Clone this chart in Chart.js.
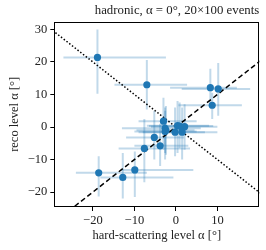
<!DOCTYPE html>
<html><head><meta charset="utf-8">
<script src="https://cdn.jsdelivr.net/npm/chart.js@4.4.1/dist/chart.umd.min.js"></script>
<style>html,body{margin:0;padding:0;background:#fff}#wrap{width:266px;height:250px}</style>
</head><body><div id="wrap"><canvas id="c" width="266" height="250"></canvas></div>
<script>
const xVals = [-18.9, -7.0, 8.3, 10.2, 8.75, -18.6, -12.8, -9.9, -7.6, -5.2, -3.8, -3.0, -2.6, -2.6, 0.4, 2.1, -0.2, 1.5, -2.4, 0.9];
const yVals = [21.4, 13.0, 12.1, 11.7, 6.7, -14.1, -15.5, -13.2, -6.6, -3.2, -5.8, 1.8, -0.4, -1.4, 0.4, 0.1, -1.6, -1.6, -1.0, 0.3];
const xLow  = [-27.1, -14.8, -1.4, 1.4, 0.6, -24.1, -18.2, -13.4, -13.8, -12.0, -10.0, -9.0, -13.0, -10.0, -7.0, -6.0, -9.0, -8.0, -9.5, -6.5];
const xHigh = [-2.4, 2.7, 14.7, 17.9, 15.9, -7.0, -0.6, 4.2, 3.4, 2.0, 3.0, 5.0, 6.0, 5.0, 8.0, 10.0, 7.0, 10.0, 4.5, 9.0];
const yLow  = [10.2, 5.4, 6.0, 3.5, 2.5, -21.4, -22.0, -21.5, -17.0, -10.0, -12.0, -7.0, -8.0, -10.0, -8.0, -7.0, -9.0, -10.0, -8.5, -6.5];
const yHigh = [30.0, 20.6, 17.9, 19.7, 10.5, -9.0, -8.0, -7.5, 2.5, 5.0, 1.0, 9.0, 6.0, 5.0, 8.0, 7.0, 6.0, 6.0, 6.5, 7.5];
const diagX = [-35, 25];
const xTicks = [-20, -10, 0, 10];
const yTicks = [-20, -10, 0, 10, 20, 30];
const xRange = [-29.3, 20.1];
const yRange = [-24.6, 32.4];

const blue = '#1f77b4';
const serif = "'Liberation Serif', 'DejaVu Serif', serif";
const fmt = v => v < 0 ? '\u2212' + Math.abs(v) : String(v);

const errorBars = {
  id: 'errorBars',
  beforeDatasetsDraw(chart) {
    const {ctx, scales: {x, y}, chartArea: a} = chart;
    ctx.save();
    ctx.beginPath(); ctx.rect(a.left, a.top, a.right - a.left, a.bottom - a.top); ctx.clip();
    ctx.strokeStyle = 'rgba(31,119,180,0.28)';
    ctx.lineWidth = 2;
    for (let i = 0; i < xVals.length; i++) {
      const px = x.getPixelForValue(xVals[i]), py = y.getPixelForValue(yVals[i]);
      ctx.beginPath();
      ctx.moveTo(x.getPixelForValue(xLow[i]), py); ctx.lineTo(x.getPixelForValue(xHigh[i]), py);
      ctx.moveTo(px, y.getPixelForValue(yLow[i])); ctx.lineTo(px, y.getPixelForValue(yHigh[i]));
      ctx.stroke();
    }
    ctx.restore();
  }
};
const frame = {
  id: 'frame',
  afterDraw(chart) {
    const {ctx, chartArea: a} = chart;
    ctx.save(); ctx.strokeStyle = '#000'; ctx.lineWidth = 1;
    ctx.strokeRect(Math.round(a.left) + 0.5, Math.round(a.top) + 0.5, Math.round(a.right - a.left) - 1, Math.round(a.bottom - a.top) - 1);
    ctx.restore();
  }
};

new Chart(document.getElementById('c'), {
  type: 'scatter',
  data: {
    datasets: [
      { type: 'line', data: diagX.map(v => ({x: v, y: v})), borderColor: '#000', borderWidth: 1.5, borderDash: [5, 3], pointRadius: 0, fill: false, order: 2 },
      { type: 'line', data: diagX.map(v => ({x: v, y: -v})), borderColor: '#000', borderWidth: 1.5, borderDash: [1.5, 2], pointRadius: 0, fill: false, order: 3 },
      { data: xVals.map((v, i) => ({x: v, y: yVals[i]})), backgroundColor: blue, borderColor: blue, pointRadius: 3.6, borderWidth: 0, order: 1 }
    ]
  },
  options: {
    responsive: false, animation: false, devicePixelRatio: 1,
    layout: { padding: { left: 0, right: 6.7, top: 0, bottom: 0 } },
    plugins: {
      legend: { display: false }, tooltip: { enabled: false },
      title: { display: true, align: 'end', text: 'hadronic, \u03b1 = 0\u00b0, 20\u00d7100 events', color: '#222',
        font: { family: serif, size: 12.8, weight: 'normal' }, padding: { top: 3, bottom: 3.3 } }
    },
    scales: {
      x: {
        type: 'linear', min: xRange[0], max: xRange[1],
        afterBuildTicks: s => { s.ticks = xTicks.map(v => ({value: v})); },
        afterFit: s => { s.height = 43; },
        grid: { drawOnChartArea: false, tickLength: 4, tickColor: '#000', drawTicks: true },
        border: { display: false },
        ticks: { callback: fmt, color: '#222', font: { family: serif, size: 12.5 }, padding: 2, maxRotation: 0 },
        title: { display: true, text: 'hard-scattering level \u03b1 [\u00b0]', color: '#222', font: { family: serif, size: 12.5 }, padding: { top: 0, bottom: 7 } }
      },
      y: {
        type: 'linear', min: yRange[0], max: yRange[1],
        afterBuildTicks: s => { s.ticks = yTicks.map(v => ({value: v})); },
        afterFit: s => { s.width = 54.3; },
        grid: { drawOnChartArea: false, tickLength: 4, tickColor: '#000', drawTicks: true },
        border: { display: false },
        ticks: { callback: fmt, color: '#222', font: { family: serif, size: 12.5 }, padding: 3 },
        title: { display: true, text: 'reco level \u03b1 [\u00b0]', color: '#222', font: { family: serif, size: 12.5 }, padding: { top: 7, bottom: 0 } }
      }
    }
  },
  plugins: [errorBars, frame]
});
</script></body></html>
